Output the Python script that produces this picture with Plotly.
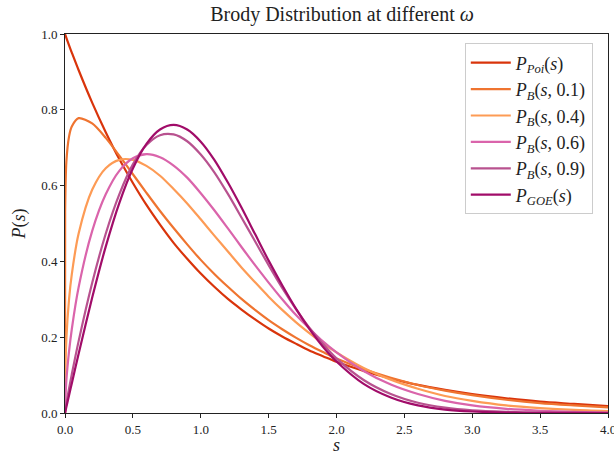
import plotly.graph_objects as go

s_vals = [0, 0.001, 0.01, 0.03, 0.05, 0.1, 0.2, 0.3, 0.4, 0.5, 0.6, 0.7, 0.8, 0.9, 1.0,
          1.1, 1.2, 1.3, 1.4, 1.5, 1.6, 1.7, 1.8, 1.9, 2.0, 2.2, 2.4, 2.6, 2.8, 3.0,
          3.25, 3.5, 3.75, 4.0]

p_poi = [1.0, 0.999, 0.990, 0.970, 0.951, 0.905, 0.819, 0.741, 0.670, 0.607, 0.549, 0.497,
         0.449, 0.407, 0.368, 0.333, 0.301, 0.273, 0.247, 0.223, 0.202, 0.183, 0.165, 0.150,
         0.135, 0.111, 0.091, 0.074, 0.061, 0.050, 0.039, 0.030, 0.024, 0.018]

p_b01 = [0.0, 0.530, 0.663, 0.730, 0.756, 0.778, 0.764, 0.726, 0.679, 0.630, 0.581, 0.533,
         0.488, 0.445, 0.404, 0.367, 0.333, 0.301, 0.272, 0.245, 0.221, 0.199, 0.179, 0.161,
         0.144, 0.116, 0.093, 0.074, 0.059, 0.047, 0.035, 0.026, 0.020, 0.015]

p_b04 = [0.0, 0.078, 0.195, 0.301, 0.366, 0.473, 0.589, 0.646, 0.668, 0.668, 0.652, 0.626,
         0.591, 0.553, 0.511, 0.468, 0.426, 0.384, 0.345, 0.307, 0.272, 0.240, 0.211, 0.184,
         0.160, 0.119, 0.088, 0.064, 0.045, 0.032, 0.020, 0.013, 0.008, 0.005]

p_b06 = [0.0, 0.021, 0.085, 0.163, 0.221, 0.331, 0.480, 0.577, 0.639, 0.672, 0.683, 0.675,
         0.653, 0.621, 0.580, 0.535, 0.487, 0.438, 0.390, 0.344, 0.300, 0.259, 0.223, 0.189,
         0.160, 0.111, 0.075, 0.050, 0.032, 0.020, 0.011, 0.006, 0.003, 0.001]

p_b09 = [0.0, 0.003, 0.024, 0.065, 0.102, 0.189, 0.343, 0.473, 0.577, 0.656, 0.707, 0.733,
         0.735, 0.717, 0.682, 0.635, 0.578, 0.516, 0.453, 0.390, 0.330, 0.275, 0.225, 0.182,
         0.144, 0.087, 0.050, 0.027, 0.014, 0.007, 0.003, 0.001, 0.0002, 0.0001]

p_goe = [0.0, 0.0016, 0.0157, 0.047, 0.078, 0.156, 0.304, 0.439, 0.554, 0.645, 0.710, 0.748,
         0.760, 0.748, 0.716, 0.668, 0.608, 0.542, 0.472, 0.402, 0.337, 0.276, 0.222, 0.175,
         0.136, 0.077, 0.041, 0.020, 0.009, 0.004, 0.0013, 0.0004, 0.0001, 0.00002]

x_ticks = [0, 0.5, 1, 1.5, 2, 2.5, 3, 3.5, 4]
x_ticktext = ["0.0", "0.5", "1.0", "1.5", "2.0", "2.5", "3.0", "3.5", "4.0"]
y_ticks = [0, 0.2, 0.4, 0.6, 0.8, 1.0]
y_ticktext = ["0.0", "0.2", "0.4", "0.6", "0.8", "1.0"]

series = [
    ("<i>P</i><sub><i>Poi</i></sub>(<i>s</i>)", p_poi, "#d9340b"),
    ("<i>P</i><sub><i>B</i></sub>(<i>s</i>, 0.1)", p_b01, "#ef7430"),
    ("<i>P</i><sub><i>B</i></sub>(<i>s</i>, 0.4)", p_b04, "#fd9b55"),
    ("<i>P</i><sub><i>B</i></sub>(<i>s</i>, 0.6)", p_b06, "#da64ab"),
    ("<i>P</i><sub><i>B</i></sub>(<i>s</i>, 0.9)", p_b09, "#b8528f"),
    ("<i>P</i><sub><i>GOE</i></sub>(<i>s</i>)", p_goe, "#a10c69"),
]

FONT = "Liberation Serif"

fig = go.Figure()
for name, ys, col in series:
    fig.add_trace(go.Scatter(x=s_vals, y=ys, mode="lines", name=name,
                             line=dict(color=col, width=2.2, shape="spline", smoothing=0.8)))

fig.update_layout(
    width=614, height=455,
    margin=dict(l=65, r=6, t=34, b=42),
    paper_bgcolor="white", plot_bgcolor="white",
    font=dict(family=FONT, color="#222", size=13),
    title=dict(text="Brody Distribution at different <i>ω</i>", x=0.557, xanchor="center",
               y=0.985, yanchor="top", font=dict(family=FONT, size=20, color="#222")),
    showlegend=True,
    legend=dict(x=0.972, y=0.975, xanchor="right", yanchor="top",
                bgcolor="rgba(255,255,255,0.8)", bordercolor="#ccc", borderwidth=1,
                font=dict(family=FONT, size=18), tracegroupgap=0, itemwidth=40),
)
fig.update_xaxes(range=[0, 4], tickvals=x_ticks, ticktext=x_ticktext,
                 ticklabeloverflow="allow", automargin=False,
                 showgrid=False, zeroline=False, showline=True, linecolor="#222", linewidth=1,
                 mirror=True, ticks="outside", ticklen=4, tickcolor="#222",
                 tickfont=dict(size=13),
                 title=dict(text="<i>s</i>", font=dict(size=18), standoff=13))
fig.update_yaxes(range=[0, 1], tickvals=y_ticks, ticktext=y_ticktext,
                 automargin=False,
                 showgrid=False, zeroline=False, showline=True, linecolor="#222", linewidth=1,
                 mirror=True, ticks="outside", ticklen=4, tickcolor="#222",
                 tickfont=dict(size=13),
                 title=dict(text="<i>P</i>(<i>s</i>)", font=dict(size=18), standoff=10))

fig.write_html("out.html")
